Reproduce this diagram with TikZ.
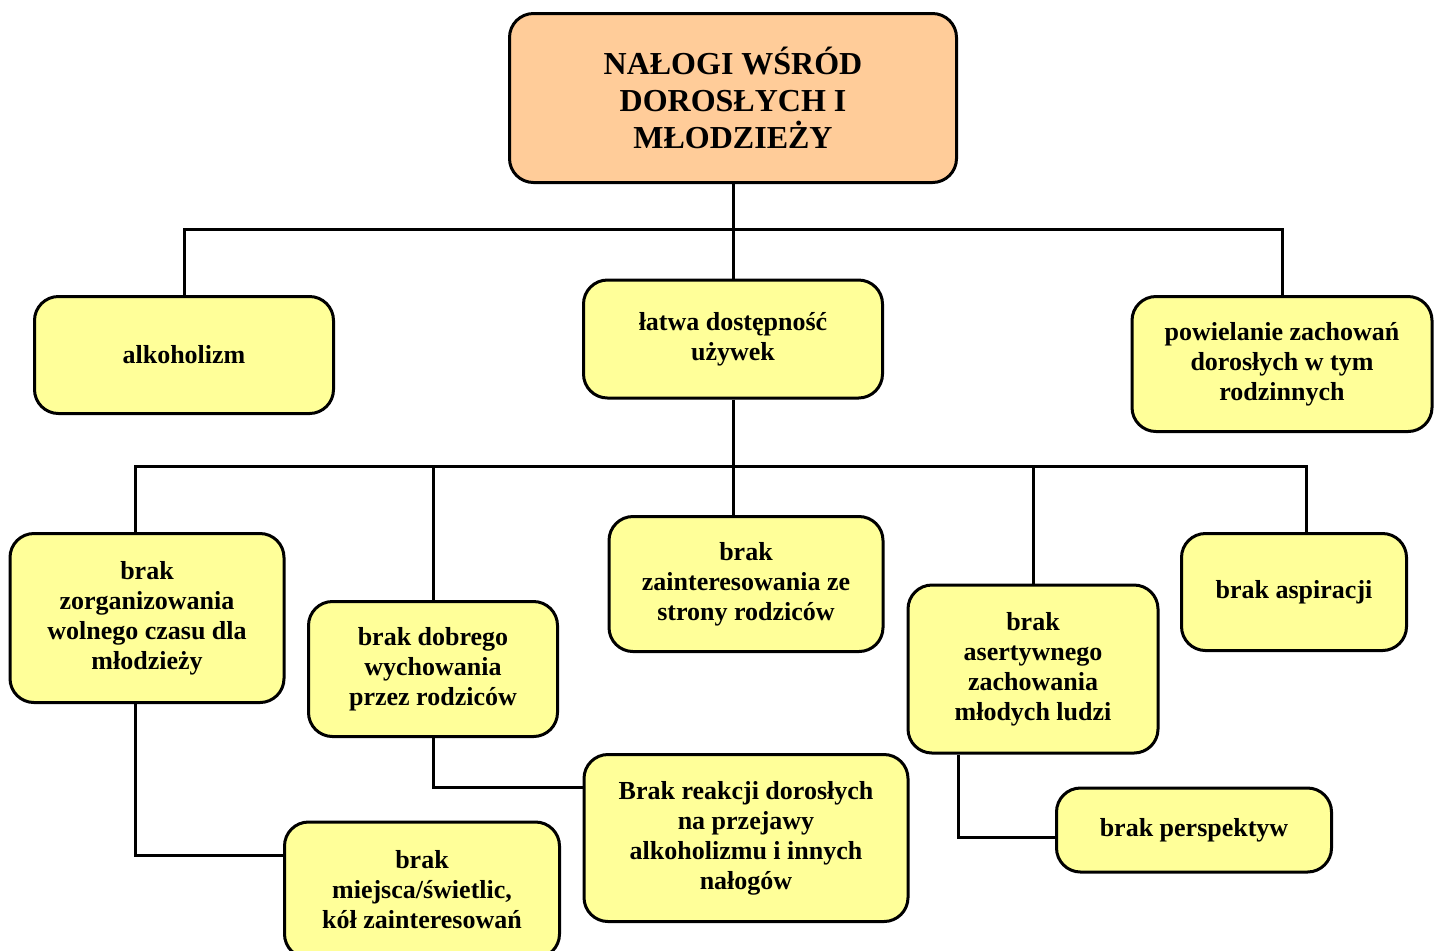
\documentclass[tikz,border=0pt]{standalone}
\usepackage{fontspec}
\setmainfont{Liberation Serif}
\usepackage{tikz}

\definecolor{brzoskw}{HTML}{FFCC99}
\definecolor{zolty}{HTML}{FFFF99}

\begin{document}
\begin{tikzpicture}[x=0.5pt, y=-0.5pt]
	\tikzset{blok/.style={draw=black, line width=1.5pt, rounded corners=12pt, fill=zolty, align=center, inner sep=0pt,
			font=\fontsize{13}{15}\selectfont\bfseries},
		tytul/.style={blok, fill=brzoskw, font=\fontsize{16}{18.5}\selectfont\bfseries},
		linia/.style={line width=1.5pt}};

	\useasboundingbox (0,0) rectangle (1438,950);

	% poziom 0 i 1
	\node[tytul, minimum width=223.5pt, minimum height=84.5pt] (naglowek) at (733,98) {NAŁOGI WŚRÓD\\DOROSŁYCH I\\MŁODZIEŻY};
	\node[blok, minimum width=149.5pt, minimum height=58.5pt] (alkohol) at (184,355) {alkoholizm};
	\node[blok, minimum width=149.5pt, minimum height=59pt] (dostep) at (733,339) {łatwa dostępność\\używek};
	\node[blok, minimum width=150pt, minimum height=67.5pt] (powiel) at (1282,364) {powielanie zachowań\\dorosłych w tym\\rodzinnych};

	% poziom 2
	\node[blok, minimum width=137pt, minimum height=84.5pt] (zorg) at (147,618) {brak\\zorganizowania\\wolnego czasu dla\\młodzieży};
	\node[blok, minimum width=124.5pt, minimum height=67.5pt] (wychow) at (433,669) {brak dobrego\\wychowania\\przez rodziców};
	\node[blok, minimum width=137pt, minimum height=67.5pt] (zaint) at (746,584) {brak\\zainteresowania ze\\strony rodziców};
	\node[blok, minimum width=125pt, minimum height=84pt] (asert) at (1033,669) {brak\\asertywnego\\zachowania\\młodych ludzi};
	\node[blok, minimum width=112.5pt, minimum height=58.5pt] (aspir) at (1294,592) {brak aspiracji};

	% poziom 3
	\node[blok, minimum width=137.5pt, minimum height=68pt] (miejsce) at (422,890) {brak\\miejsca/świetlic,\\kół zainteresowań};
	\node[blok, minimum width=162pt, minimum height=83.5pt] (reakcja) at (746,838) {Brak reakcji dorosłych\\na przejawy\\alkoholizmu i innych\\nałogów};
	\node[blok, minimum width=137.5pt, minimum height=42pt] (perspekt) at (1194,830) {brak perspektyw};

	\coordinate (w1) at (733,229);
	\coordinate (w2) at (733,466);

	\draw[linia] (naglowek.south) -- (dostep.north);
	\draw[linia] (alkohol.north) |- (w1) -| (powiel.north);

	\draw[linia] (dostep.south) -- (zaint.north -| w2);
	\draw[linia] ([xshift=-6pt]zorg.north) |- (w2) -| ([xshift=6pt]aspir.north);
	\foreach \cel in {wychow, asert}{
		\draw[linia] (w2 -| \cel.north) -- (\cel.north);
	}

	\draw[linia] ([xshift=-6pt]zorg.south) |- ([yshift=17.5pt]miejsce.west);
	\draw[linia] (wychow.south) |- ([yshift=25.5pt]reakcja.west);
	\draw[linia] ([xshift=-37.5pt]asert.south) |- ([yshift=-3.5pt]perspekt.west);

\end{tikzpicture}
\end{document}
